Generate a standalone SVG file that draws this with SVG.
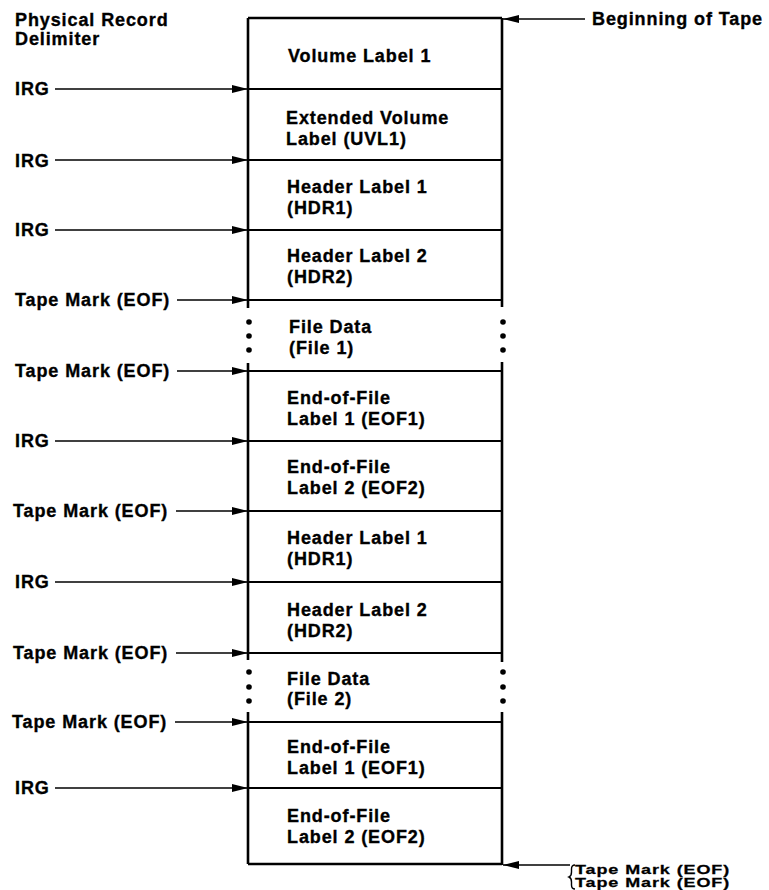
<svg xmlns="http://www.w3.org/2000/svg" width="769" height="890" viewBox="0 0 769 890">
<style>
text{font-family:"Liberation Sans",Arial,Helvetica,sans-serif;font-weight:bold;font-size:18px;letter-spacing:0.9px;fill:#000;stroke:#000;stroke-width:0.35}
.frame{stroke:#000;stroke-width:2.6;fill:none}
.sep{stroke:#000;stroke-width:1.8;fill:none}
.conn{stroke:#000;stroke-width:1.6;fill:none;marker-end:url(#ah)}
.dot{fill:#000}
</style>
<defs>
<marker id="ah" markerUnits="userSpaceOnUse" markerWidth="17" markerHeight="10" refX="16" refY="5" orient="auto">
<path d="M0,1 L16,5 L0,9 Z" fill="#000"/>
</marker>
</defs>
<g id="tape-frame">
<path class="frame" d="M248,18 H502"/>
<path class="frame" d="M248,18 V308 M248,363 V660 M248,712 V864"/>
<path class="frame" d="M502,18 V307 M502,362 V662 M502,712 V865"/>
<path class="frame" d="M248,864 H502"/>
<path class="sep" d="M248,89 H502 M248,160 H502 M248,230 H502 M248,300 H502 M248,371 H502 M248,441 H502 M248,511 H502 M248,582 H502 M248,653 H502 M248,722 H502 M248,788 H502"/>
<circle class="dot" cx="249" cy="322" r="2.8"/><circle class="dot" cx="249" cy="336" r="2.8"/><circle class="dot" cx="249" cy="350" r="2.8"/>
<circle class="dot" cx="503" cy="322" r="2.8"/><circle class="dot" cx="503" cy="336" r="2.8"/><circle class="dot" cx="503" cy="350" r="2.8"/>
<circle class="dot" cx="249" cy="672" r="2.8"/><circle class="dot" cx="249" cy="687" r="2.8"/><circle class="dot" cx="249" cy="701" r="2.8"/>
<circle class="dot" cx="503" cy="672" r="2.8"/><circle class="dot" cx="503" cy="687" r="2.8"/><circle class="dot" cx="503" cy="701" r="2.8"/>
</g>
<g id="vol1"><text x="288" y="62">Volume Label 1</text></g>
<g id="uvl1"><text x="286" y="124">Extended Volume</text><text x="286" y="145">Label (UVL1)</text></g>
<g id="hdr1a"><text x="287" y="193">Header Label 1</text><text x="287" y="214">(HDR1)</text></g>
<g id="hdr2a"><text x="287" y="262">Header Label 2</text><text x="287" y="283">(HDR2)</text></g>
<g id="file1"><text x="289" y="333">File Data</text><text x="289" y="354">(File 1)</text></g>
<g id="eof1a"><text x="287" y="404">End-of-File</text><text x="287" y="425">Label 1 (EOF1)</text></g>
<g id="eof2a"><text x="287" y="473">End-of-File</text><text x="287" y="494">Label 2 (EOF2)</text></g>
<g id="hdr1b"><text x="287" y="544">Header Label 1</text><text x="287" y="565">(HDR1)</text></g>
<g id="hdr2b"><text x="287" y="616">Header Label 2</text><text x="287" y="637">(HDR2)</text></g>
<g id="file2"><text x="287" y="685">File Data</text><text x="287" y="705">(File 2)</text></g>
<g id="eof1b"><text x="287" y="753">End-of-File</text><text x="287" y="774">Label 1 (EOF1)</text></g>
<g id="eof2b"><text x="287" y="822">End-of-File</text><text x="287" y="843">Label 2 (EOF2)</text></g>
<g id="hdr-left"><text x="15" y="26">Physical Record</text><text x="15" y="45">Delimiter</text></g>
<g id="lbl-1"><text x="15" y="95">IRG</text></g>
<g id="lbl-2"><text x="15" y="167">IRG</text></g>
<g id="lbl-3"><text x="15" y="236">IRG</text></g>
<g id="lbl-4"><text x="15" y="306">Tape Mark (EOF)</text></g>
<g id="lbl-5"><text x="15" y="377">Tape Mark (EOF)</text></g>
<g id="lbl-6"><text x="15" y="447">IRG</text></g>
<g id="lbl-7"><text x="13" y="517">Tape Mark (EOF)</text></g>
<g id="lbl-8"><text x="15" y="588">IRG</text></g>
<g id="lbl-9"><text x="13" y="659">Tape Mark (EOF)</text></g>
<g id="lbl-10"><text x="12" y="728">Tape Mark (EOF)</text></g>
<g id="lbl-11"><text x="15" y="794">IRG</text></g>
<g id="lbl-bot"><text x="592" y="25">Beginning of Tape</text></g>
<g id="lbl-end">
<path d="M575,865 q-3.5,0 -3.5,4 v3 q0,4 -2.5,5 q2.5,1 2.5,5 v3 q0,4 3.5,4" stroke="#000" stroke-width="1.4" fill="none"/>
<text transform="translate(575,874) scale(1,0.72)">Tape Mark (EOF)</text>
<text transform="translate(575,886.5) scale(1,0.72)">Tape Mark (EOF)</text>
</g>
<g id="connectors">
<path class="conn" d="M55,89 H248"/>
<path class="conn" d="M55,160 H248"/>
<path class="conn" d="M55,230 H248"/>
<path class="conn" d="M177,300 H248"/>
<path class="conn" d="M177,371 H248"/>
<path class="conn" d="M55,441 H248"/>
<path class="conn" d="M176,511 H248"/>
<path class="conn" d="M55,582 H248"/>
<path class="conn" d="M176,653 H248"/>
<path class="conn" d="M175,722 H248"/>
<path class="conn" d="M55,788 H248"/>
<path class="conn" d="M585,19 H503"/>
<path class="conn" d="M570,865 H503"/>
</g>
</svg>
